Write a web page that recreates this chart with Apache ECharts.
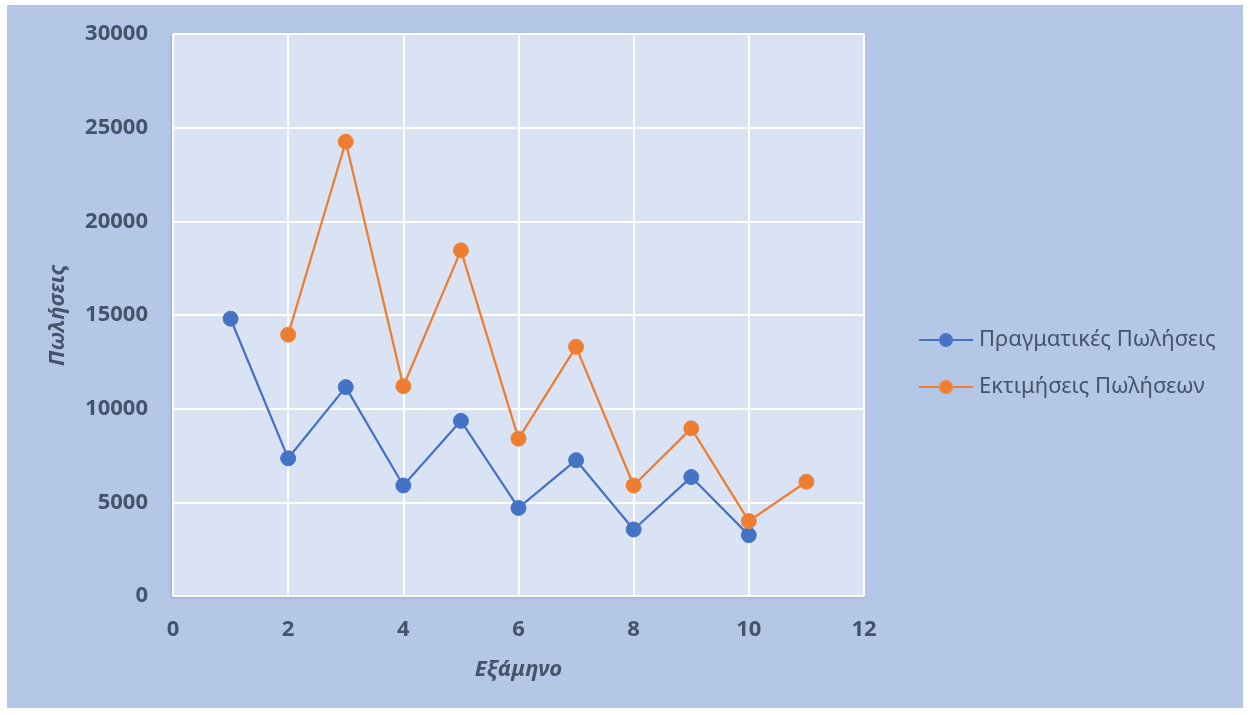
<!DOCTYPE html>
<html>
<head>
<meta charset="utf-8">
<script src="https://cdn.jsdelivr.net/npm/echarts@6/dist/echarts.min.js"></script>
<style>
  html, body { margin: 0; padding: 0; background: #ffffff; }
  #chart { width: 1250px; height: 715px; }
</style>
</head>
<body>
<div id="chart"></div>
<script>
// Semesters and sales figures
const semestersActual = [1, 2, 3, 4, 5, 6, 7, 8, 9, 10];
const actualSales = [14800, 7350, 11150, 5900, 9350, 4700, 7250, 3550, 6350, 3250];
const semestersForecast = [2, 3, 4, 5, 6, 7, 8, 9, 10, 11];
const forecastSales = [13950, 24250, 11200, 18450, 8400, 13300, 5900, 8950, 4000, 6100];
const seriesNames = ['Πραγματικές Πωλήσεις', 'Εκτιμήσεις Πωλήσεων'];
const xAxisTitle = 'Εξάμηνο';
const yAxisTitle = 'Πωλήσεις';

const textColor = '#44546a';
const fontFamily = '"Noto Sans", "DejaVu Sans", sans-serif';

const pairs = (xs, ys) => xs.map((x, i) => [x, ys[i]]);

const chart = echarts.init(document.getElementById('chart'), null, { renderer: 'canvas' });

chart.setOption({
  backgroundColor: '#ffffff',
  animation: false,
  graphic: [{
    type: 'rect',
    z: -10,
    silent: true,
    shape: { x: 7, y: 5, width: 1236, height: 703 },
    style: { fill: '#b4c7e7' }
  }],
  grid: {
    left: 173, top: 34, right: 386, bottom: 119,
    show: true,
    backgroundColor: '#dae3f3',
    borderWidth: 0,
    shadowColor: 'rgba(60, 70, 90, 0.35)',
    shadowBlur: 3,
    shadowOffsetX: -1,
    shadowOffsetY: 1
  },
  legend: {
    orient: 'vertical',
    left: 918,
    top: 329,
    padding: 0,
    itemWidth: 54,
    itemHeight: 15,
    itemGap: 25,
    textStyle: { color: textColor, fontSize: 22, fontFamily: fontFamily, padding: [0, 0, 0, 1] },
    data: seriesNames
  },
  xAxis: {
    type: 'value',
    min: 0, max: 12, interval: 2,
    name: xAxisTitle,
    nameLocation: 'middle',
    nameGap: 63,
    nameTextStyle: { color: textColor, fontSize: 22, fontWeight: 'bold', fontStyle: 'italic', fontFamily: fontFamily },
    axisLine: { show: false },
    axisTick: { show: false },
    axisLabel: { color: textColor, fontSize: 22, fontWeight: 'bold', fontFamily: fontFamily, margin: 23 },
    splitLine: { show: true, lineStyle: { color: '#ffffff', width: 2 } }
  },
  yAxis: {
    type: 'value',
    min: 0, max: 30000, interval: 5000,
    name: yAxisTitle,
    nameLocation: 'middle',
    nameGap: 104,
    nameRotate: 90,
    nameTextStyle: { color: textColor, fontSize: 22, fontWeight: 'bold', fontStyle: 'italic', fontFamily: fontFamily },
    axisLine: { show: false },
    axisTick: { show: false },
    axisLabel: {
      color: textColor, fontSize: 22, fontWeight: 'bold', fontFamily: fontFamily, margin: 25,
      formatter: (v) => String(v)
    },
    splitLine: { show: true, lineStyle: { color: '#ffffff', width: 2 } }
  },
  series: [
    {
      name: seriesNames[0],
      type: 'line',
      data: pairs(semestersActual, actualSales),
      symbol: 'circle',
      symbolSize: 15,
      color: '#4472c4',
      lineStyle: { width: 2.25, color: '#4472c4' },
      itemStyle: { color: '#4472c4', borderColor: '#4a76c6', borderWidth: 1 }
    },
    {
      name: seriesNames[1],
      type: 'line',
      data: pairs(semestersForecast, forecastSales),
      symbol: 'circle',
      symbolSize: 15,
      color: '#ed7d31',
      lineStyle: { width: 2.25, color: '#ed7d31' },
      itemStyle: { color: '#ed7d31', borderColor: '#f08538', borderWidth: 1 }
    }
  ]
});
</script>
</body>
</html>
